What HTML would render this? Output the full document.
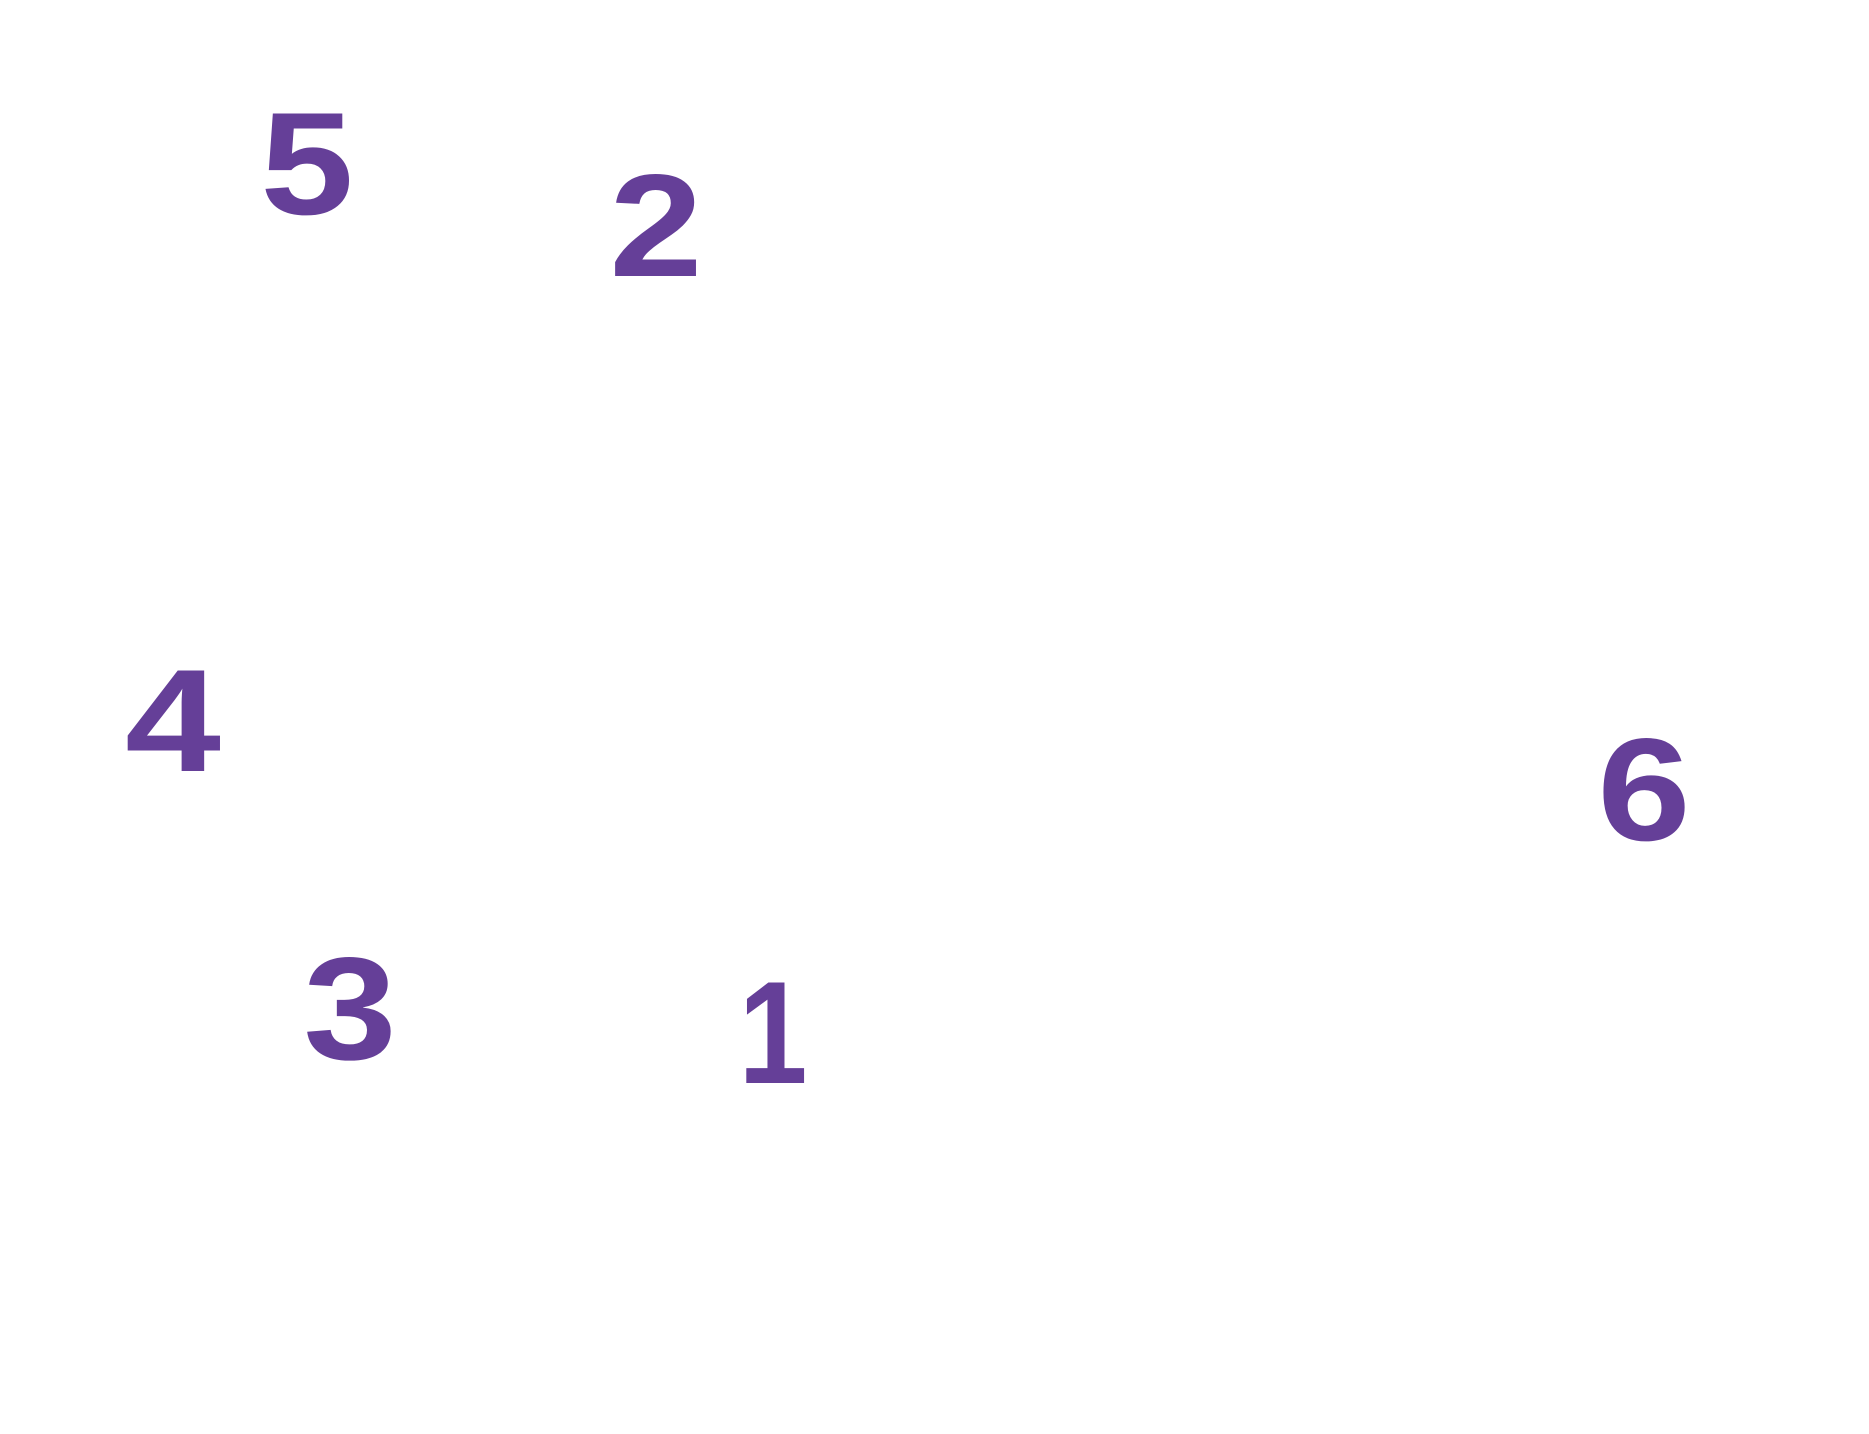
<!DOCTYPE html>
<html><head><meta charset="utf-8"><style>
html,body{margin:0;padding:0;background:#fff;width:1869px;height:1434px;overflow:hidden}
svg text{font-family:"Liberation Sans",sans-serif;font-weight:bold;font-size:146px;fill:#653f98;text-anchor:middle}
</style></head><body>
<svg width="1869" height="1434" xmlns="http://www.w3.org/2000/svg">
<g transform="translate(307,214) scale(1.15,1)"><text x="0" y="0">5</text></g>
<g transform="translate(656,276) scale(1.15,1)"><text x="0" y="0">2</text></g>
<g transform="translate(173,771) scale(1.18,1)"><text x="0" y="0">4</text></g>
<g transform="translate(1644,840) scale(1.15,1)"><text x="0" y="0">6</text></g>
<g transform="translate(350,1059) scale(1.15,1)"><text x="0" y="0">3</text></g>
<g transform="translate(773,1083) scale(0.85,1)"><text x="0" y="0">1</text></g>
</svg>
</body></html>
